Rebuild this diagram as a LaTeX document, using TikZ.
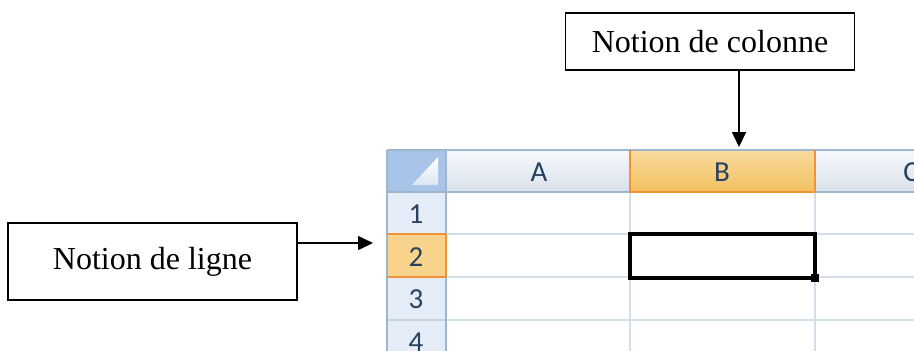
\documentclass[tikz,border=0pt]{standalone}
\usepackage{fontspec}
\setmainfont{Liberation Serif}
\newfontfamily\gridfont{Carlito}
\usetikzlibrary{arrows.meta}

\definecolor{hdrtop}{HTML}{F6F8FB}
\definecolor{hdrbot}{HTML}{D9E1EC}
\definecolor{hdrline}{HTML}{9EB6CE}
\definecolor{rowhdr}{HTML}{E4ECF7}
\definecolor{seltop}{HTML}{F9DA9E}
\definecolor{selbot}{HTML}{F1C15F}
\definecolor{selline}{HTML}{F29436}
\definecolor{gridline}{HTML}{D4DDEA}
\definecolor{cornerbg}{HTML}{A9C4E9}
\definecolor{cornertri}{HTML}{DCE6F4}
\definecolor{hdrtext}{HTML}{27415F}

\tikzset{
  notebox/.style={draw, line width=0.75pt, inner sep=0pt,
    font=\fontsize{16}{19}\selectfont},
  pointer/.style={-{Triangle[length=7.5pt,width=7pt]}, line width=0.8pt},
  hdrlabel/.style={font=\gridfont\fontsize{14.5}{16}\selectfont, text=hdrtext},
  hdrcell/.style={top color=hdrtop, bottom color=hdrbot, draw=none},
  selcell/.style={top color=seltop, bottom color=selbot, draw=none},
}

\begin{document}
\begin{tikzpicture}[x=0.5pt, y=-0.5pt]
\useasboundingbox (0,0) rectangle (914,350);

% feuille de calcul
\begin{scope}
\clip (0,0) rectangle (914,350);
% en-tetes de colonnes
\path[hdrcell] (446,150) rectangle (1000,192);
\path[selcell] (630,150) rectangle (815,192);
\fill[rowhdr] (387,192) rectangle (446,370);
\fill[seltop!70!selbot] (387,234) rectangle (446,277);
% coin
\fill[cornerbg] (387,150) rectangle (446,192);
\shade[top color=white, bottom color=cornertri] (438,157) -- (438,185) -- (412,185) -- cycle;
% quadrillage
\foreach \y in {234,277,320} \draw[gridline, line width=0.7pt] (446,\y) -- (914,\y);
\foreach \x in {630,815} \draw[gridline, line width=0.7pt] (\x,192) -- (\x,370);
\foreach \y in {234,277,320} \draw[hdrline!60, line width=0.7pt] (387,\y) -- (446,\y);
\draw[hdrline, line width=0.8pt] (387,150) -- (914,150);
\draw[hdrline, line width=0.8pt] (387,192) -- (914,192);
\draw[hdrline, line width=0.6pt] (446,150) -- (446,370);
\draw[hdrline, line width=0.6pt] (387,150) -- (387,370);
% ligne et colonne actives
\draw[selline, line width=0.8pt] (630,150) -- (630,192) (815,150) -- (815,192) (630,192) -- (815,192);
\draw[selline, line width=0.8pt] (387,234) -- (446,234) (387,277) -- (446,277) (446,234) -- (446,277);
% etiquettes
\node[hdrlabel] (colA) at (539,172) {A};
\node[hdrlabel] (colB) at (722,172) {B};
\node[hdrlabel] (colC) at (911,172) {C};
\foreach \n/\y in {1/214, 2/257, 3/299, 4/342}
  \node[hdrlabel] (row\n) at (416,\y) {\n};
% cellule B2
\draw[black, line width=1.6pt] (630,234) rectangle (815,278);
\fill[black] (811,274) rectangle (819,282);
\end{scope}

% boites
\node[notebox, minimum width=144.5pt, minimum height=28.5pt] (colonne) at (710,41.5) {Notion de colonne};
\node[notebox, minimum width=144.5pt, minimum height=38.5pt] (ligne) at (152.5,261.5) {Notion de ligne};

% fleches
\coordinate (coltip) at (739,147);
\coordinate (rowtip) at (373,243);
\draw[pointer] (colonne.south -| coltip) -- (coltip);
\draw[pointer] (ligne.east |- rowtip) -- (rowtip);
\end{tikzpicture}
\end{document}
